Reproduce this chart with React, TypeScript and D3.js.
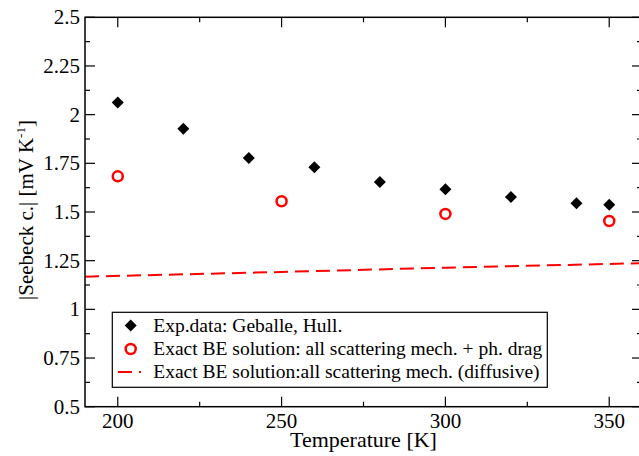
import React from "react";
import * as d3 from "d3";

const expT = [200, 220, 240, 260, 280, 300, 320, 340, 350];
const expS = [2.063, 1.928, 1.777, 1.73, 1.654, 1.617, 1.577, 1.545, 1.537];
const beT = [200, 250, 300, 350];
const beS = [1.683, 1.555, 1.49, 1.454];
const diffT = [190, 250, 300, 360];
const diffS = [1.168, 1.192, 1.214, 1.237];
const xTicks = [200, 250, 300, 350];
const xMinor = [225, 275, 325];
const yTicks = [0.5, 0.75, 1, 1.25, 1.5, 1.75, 2, 2.25, 2.5];
const yTickLabels = ["0.5", "0.75", "1", "1.25", "1.5", "1.75", "2", "2.25", "2.5"];
const yMinor = [0.625, 0.875, 1.125, 1.375, 1.625, 1.875, 2.125, 2.375];
const legendLabels = [
  "Exp.data: Geballe, Hull.",
  "Exact BE solution: all scattering mech. + ph. drag",
  "Exact BE solution:all scattering mech. (diffusive)",
];

const W = 639;
const H = 456;
const L = 85, R = 642, T = 17.3, B = 406.7;
const FONT = "'Liberation Serif', 'Times New Roman', Times, serif";

export default function App() {
  const x = d3.scaleLinear().domain([190, 360]).range([L, R]);
  const y = d3.scaleLinear().domain([0.5, 2.5]).range([B, T]);
  const line = d3
    .line<number>()
    .x((_, i) => x(diffT[i]))
    .y((d) => y(d));
  const diamondPath = (cx: number, cy: number) => {
    const s = 6;
    return `M${cx},${cy - s}L${cx + s},${cy}L${cx},${cy + s}L${cx - s},${cy}Z`;
  };
  const txt = { fontFamily: FONT };

  return (
    <svg
      width={W}
      height={H}
      style={{ position: "absolute", left: 0, top: 0, background: "#fff", fontFamily: FONT }}
    >
      <rect x={0} y={0} width={W} height={H} fill="#fff" />
      <defs>
        <clipPath id="plot">
          <rect x={L} y={T} width={R - L} height={B - T} />
        </clipPath>
      </defs>
      <path
        d={line(diffS) || ""}
        fill="none"
        stroke="#ff0000"
        strokeWidth={2}
        strokeDasharray="14,7"
        clipPath="url(#plot)"
      />
      {expT.map((t, i) => (
        <path key={"e" + i} d={diamondPath(x(t), y(expS[i]))} fill="#000" />
      ))}
      {beT.map((t, i) => (
        <circle
          key={"b" + i}
          cx={x(t)}
          cy={y(beS[i])}
          r={5}
          fill="none"
          stroke="#ff0000"
          strokeWidth={2.5}
        />
      ))}
      <rect x={L} y={T} width={R - L} height={B - T} fill="none" stroke="#000" strokeWidth={1.5} />
      {xTicks.map((t) => (
        <g key={"xt" + t}>
          <line x1={x(t)} x2={x(t)} y1={B} y2={B - 10} stroke="#000" strokeWidth={1.2} />
          <line x1={x(t)} x2={x(t)} y1={T} y2={T + 10} stroke="#000" strokeWidth={1.2} />
          <text x={x(t)} y={428.3} fontSize={21} textAnchor="middle" fill="#000" style={txt}>
            {t}
          </text>
        </g>
      ))}
      {xMinor.map((t) => (
        <g key={"xm" + t}>
          <line x1={x(t)} x2={x(t)} y1={B} y2={B - 5} stroke="#000" strokeWidth={1.2} />
          <line x1={x(t)} x2={x(t)} y1={T} y2={T + 5} stroke="#000" strokeWidth={1.2} />
        </g>
      ))}
      {yTicks.map((v, i) => (
        <g key={"yt" + v}>
          <line x1={L} x2={L + 10} y1={y(v)} y2={y(v)} stroke="#000" strokeWidth={1.2} />
          <line x1={R} x2={R - 10} y1={y(v)} y2={y(v)} stroke="#000" strokeWidth={1.2} />
          <text x={80} y={y(v) + 7} fontSize={21} textAnchor="end" fill="#000" style={txt}>
            {yTickLabels[i]}
          </text>
        </g>
      ))}
      {yMinor.map((v) => (
        <g key={"ym" + v}>
          <line x1={L} x2={L + 5} y1={y(v)} y2={y(v)} stroke="#000" strokeWidth={1.2} />
          <line x1={R} x2={R - 5} y1={y(v)} y2={y(v)} stroke="#000" strokeWidth={1.2} />
        </g>
      ))}
      <text x={(L + R) / 2} y={446.7} fontSize={22} textAnchor="middle" fill="#000" style={txt}>
        Temperature [K]
      </text>
      <text
        transform={`translate(33,${210}) rotate(-90)`}
        fontSize={21}
        textAnchor="middle"
        fill="#000"
        style={txt}
      >
        |Seebeck c.| [mV K
        <tspan dy={-8} fontSize={13}>-1</tspan>
        <tspan dy={8}>]</tspan>
      </text>
      <rect x={112.3} y={312.3} width={435} height={75} fill="#fff" stroke="#000" strokeWidth={1.2} />
      <path d={diamondPath(130.7, 325.5)} fill="#000" />
      <circle cx={130.7} cy={349} r={5} fill="none" stroke="#ff0000" strokeWidth={2.5} />
      <line x1={118} x2={141} y1={372} y2={372} stroke="#ff0000" strokeWidth={2} strokeDasharray="14,7" />
      {legendLabels.map((s, i) => (
        <text key={"l" + i} x={153.3} y={331.7 + i * 23.3} fontSize={19.5} fill="#000" style={txt}>
          {s}
        </text>
      ))}
    </svg>
  );
}
